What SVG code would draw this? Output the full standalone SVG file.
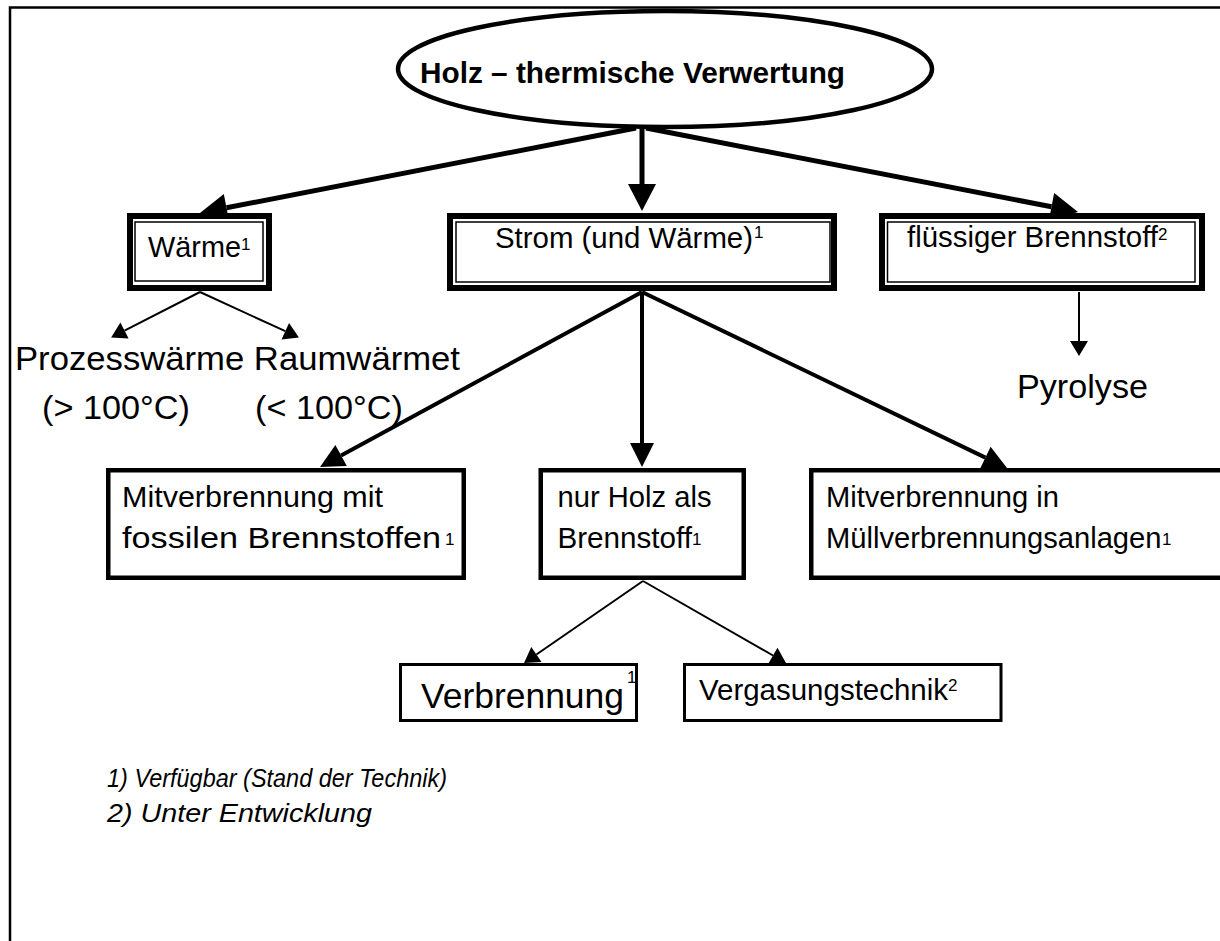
<svg xmlns="http://www.w3.org/2000/svg" width="1220" height="941" viewBox="0 0 1220 941">
<defs>
<style>
text{font-family:"Liberation Sans",Arial,sans-serif;fill:#000}
.t{font-size:29px}
.big{font-size:33px}
.sup{font-size:17px}
.title{font-size:29px;font-weight:bold}
.foot{font-size:25px;font-style:italic}
.outer{fill:#fff;stroke:#000;stroke-width:6}
.inner{fill:none;stroke:#000;stroke-width:1.5}
.box{fill:#fff;stroke:#000;stroke-width:4.5}
.box2{fill:#fff;stroke:#000;stroke-width:3}
.thick{stroke:#000;stroke-width:5;fill:none}
.med{stroke:#000;stroke-width:4;fill:none}
.thin{stroke:#000;stroke-width:2;fill:none}
</style>
<marker id="hBig" markerUnits="userSpaceOnUse" markerWidth="30" markerHeight="30" refX="0" refY="14" orient="auto" overflow="visible"><path d="M0,0 L27,14 L0,28 z" fill="#000"/></marker>
<marker id="hMed" markerUnits="userSpaceOnUse" markerWidth="26" markerHeight="26" refX="0" refY="12" orient="auto" overflow="visible"><path d="M0,0 L24,12 L0,24 z" fill="#000"/></marker>
<marker id="hThin" markerUnits="userSpaceOnUse" markerWidth="20" markerHeight="20" refX="0" refY="9" orient="auto" overflow="visible"><path d="M0,0 L15,9 L0,18 z" fill="#000"/></marker>
</defs>
<rect x="10" y="7.5" width="1240" height="1000" fill="#fff" stroke="#000" stroke-width="2.5"/>

<g id="connectors">
<line class="thick" x1="636" y1="128" x2="226.5" y2="207.8" marker-end="url(#hBig)"/>
<line class="thick" x1="642" y1="127" x2="642" y2="184" marker-end="url(#hBig)"/>
<line class="thick" x1="646" y1="128" x2="1051.5" y2="206.8" marker-end="url(#hBig)"/>
<line class="med" x1="642" y1="292" x2="341.1" y2="455.5" marker-end="url(#hMed)"/>
<line class="med" x1="642" y1="292" x2="642" y2="443" marker-end="url(#hMed)"/>
<line class="med" x1="642" y1="292" x2="985.4" y2="457.6" marker-end="url(#hMed)"/>
<line class="thin" x1="200" y1="292" x2="124.5" y2="330.6" marker-end="url(#hThin)"/>
<line class="thin" x1="200" y1="292" x2="285.3" y2="331.2" marker-end="url(#hThin)"/>
<line class="thin" x1="1079" y1="292" x2="1079" y2="341" marker-end="url(#hThin)"/>
<line class="thin" x1="643" y1="581" x2="536.4" y2="654.5" marker-end="url(#hThin)"/>
<line class="thin" x1="643" y1="581" x2="773" y2="655.5" marker-end="url(#hThin)"/>
</g>

<g id="root">
<ellipse cx="665" cy="69" rx="267" ry="58" fill="#fff" stroke="#000" stroke-width="4.5"/>
<text class="title" x="420" y="83" textLength="425" lengthAdjust="spacingAndGlyphs">Holz – thermische Verwertung</text>
</g>

<g id="waerme">
<rect class="outer" x="130" y="216" width="139" height="72"/>
<rect class="inner" x="135" y="222" width="128" height="59"/>
<text class="t" x="148" y="257" textLength="93" lengthAdjust="spacingAndGlyphs">Wärme</text>
<text class="sup" x="241" y="250">1</text>
</g>

<g id="strom">
<rect class="outer" x="450" y="216" width="384" height="72"/>
<rect class="inner" x="456" y="222" width="374" height="60"/>
<text class="t" x="495" y="248" textLength="258" lengthAdjust="spacingAndGlyphs">Strom (und Wärme)</text>
<text class="sup" x="754" y="238">1</text>
</g>

<g id="fluessig">
<rect class="outer" x="882" y="216" width="320" height="72"/>
<rect class="inner" x="887.5" y="222" width="307.5" height="60"/>
<text class="t" x="907" y="247" textLength="251" lengthAdjust="spacingAndGlyphs">flüssiger Brennstoff</text>
<text class="sup" x="1158" y="240">2</text>
</g>

<g id="prozess">
<text class="big" x="15" y="370" textLength="445" lengthAdjust="spacingAndGlyphs">Prozesswärme Raumwärmet</text>
<text class="big" x="42" y="419" textLength="148" lengthAdjust="spacingAndGlyphs">(&gt; 100°C)</text>
<text class="big" x="255" y="419" textLength="148" lengthAdjust="spacingAndGlyphs">(&lt; 100°C)</text>
</g>

<g id="pyrolyse">
<text class="big" x="1017" y="398" textLength="131" lengthAdjust="spacingAndGlyphs">Pyrolyse</text>
</g>

<g id="mitfossil">
<rect class="box" x="108.25" y="470.25" width="355.5" height="107.5"/>
<text class="t" x="122" y="507" textLength="261" lengthAdjust="spacingAndGlyphs">Mitverbrennung mit</text>
<text class="t" x="122" y="548" textLength="319" lengthAdjust="spacingAndGlyphs">fossilen Brennstoffen</text>
<text class="sup" x="445" y="545">1</text>
</g>

<g id="nurholz">
<rect class="box" x="540.75" y="470.25" width="203" height="107.5"/>
<text class="t" x="557.5" y="507" textLength="154" lengthAdjust="spacingAndGlyphs">nur Holz als</text>
<text class="t" x="557.5" y="548" textLength="134.5" lengthAdjust="spacingAndGlyphs">Brennstoff</text>
<text class="sup" x="692" y="545">1</text>
</g>

<g id="muell">
<rect class="box" x="811.25" y="470.25" width="420" height="107.5"/>
<text class="t" x="826" y="507" textLength="233" lengthAdjust="spacingAndGlyphs">Mitverbrennung in</text>
<text class="t" x="826" y="548" textLength="335.5" lengthAdjust="spacingAndGlyphs">Müllverbrennungsanlagen</text>
<text class="sup" x="1162" y="545">1</text>
</g>

<g id="verbrennung">
<rect class="box2" x="400.5" y="664.5" width="236" height="56"/>
<text x="421" y="708" font-size="35" textLength="203" lengthAdjust="spacingAndGlyphs">Verbrennung</text>
<text class="sup" x="627" y="683">1</text>
</g>

<g id="vergasung">
<rect class="box2" x="684.5" y="664.5" width="316.5" height="56"/>
<text class="t" x="699" y="700" textLength="249" lengthAdjust="spacingAndGlyphs">Vergasungstechnik</text>
<text class="sup" x="948" y="691">2</text>
</g>

<g id="legend">
<text class="foot" x="107" y="787" textLength="340" lengthAdjust="spacingAndGlyphs">1) Verfügbar (Stand der Technik)</text>
<text class="foot" x="107" y="822" textLength="265" lengthAdjust="spacingAndGlyphs">2) Unter Entwicklung</text>
</g>
</svg>
